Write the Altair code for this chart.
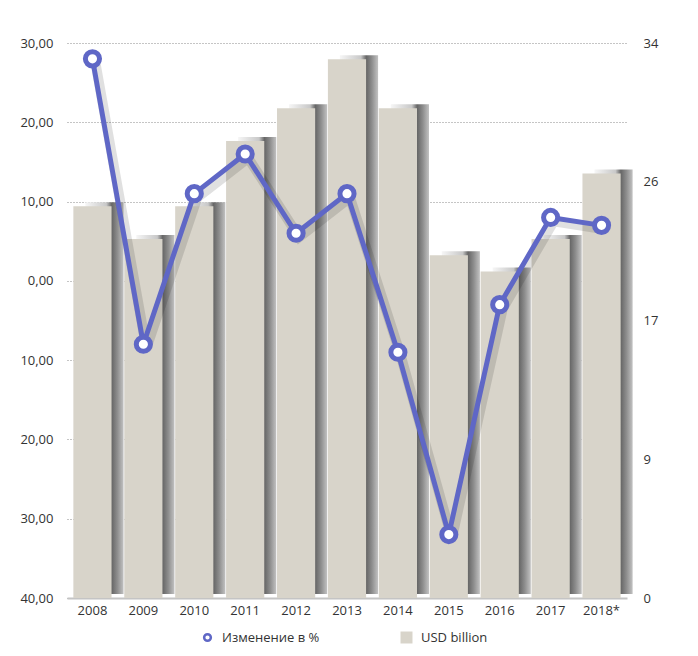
import altair as alt
import pandas as pd

years = ["2008", "2009", "2010", "2011", "2012", "2013", "2014", "2015", "2016", "2017", "2018*"]
usd_billion = [24, 22, 24, 28, 30, 33, 30, 21, 20, 22, 26]
change_pct = [28, -8, 11, 16, 6, 11, -9, -32, -3, 8, 7]
left_ticks = [-40, -30, -20, -10, 0, 10, 20, 30]
right_ticks = [0, 8.5, 17, 25.5, 34]
line_name = "Изменение в %"
bar_name = "USD billion"

df = pd.DataFrame({
    "year": years,
    "usd": usd_billion,
    "pct": change_pct,
    "s1": [line_name] * len(years),
    "s2": [bar_name] * len(years),
})

FONT = "Open Sans"
BLUE = "#5f67c6"
TXT = "#333333"

x_enc = alt.X("year:N", sort=years,
              scale=alt.Scale(paddingInner=0.25, paddingOuter=0.125),
              axis=alt.Axis(title=None, labelAngle=0, ticks=False, domain=True,
                            domainColor="#c4c4c4", domainWidth=2, labelPadding=6,
                            labelFont=FONT, labelFontSize=13, labelColor=TXT, grid=False))

y_right_scale = alt.Scale(domain=[0, 34], nice=False, zero=True)
right_axis = alt.Axis(orient="right", title=None, values=right_ticks,
                      labelExpr="format(round(datum.value), 'd')",
                      grid=False, ticks=False, domain=False,
                      labelPadding=16,
                      labelFont=FONT, labelFontSize=13, labelColor=TXT)

shadow = alt.Chart(df).mark_bar(
    xOffset=12, yOffset=-4,
    color=alt.Gradient(gradient="linear", x1=0, x2=1, y1=0, y2=0,
                       stops=[alt.GradientStop(color="#f6f6f6", offset=0),
                              alt.GradientStop(color="#c8c8c8", offset=0.55),
                              alt.GradientStop(color="#666666", offset=0.69),
                              alt.GradientStop(color="#8e8e8e", offset=0.84),
                              alt.GradientStop(color="#c2c2c2", offset=1)])
).encode(
    x=x_enc,
    y=alt.Y("usd:Q", scale=y_right_scale, axis=right_axis),
)

bars = alt.Chart(df).mark_bar(
    color=alt.Gradient(gradient="linear", x1=0, x2=1, y1=0, y2=0,
                       stops=[alt.GradientStop(color="#e3dfd6", offset=0),
                              alt.GradientStop(color="#dcd8ce", offset=1)])
).encode(
    x=x_enc,
    y=alt.Y("usd:Q", scale=y_right_scale, axis=right_axis),
    fill=alt.Fill("s2:N", scale=alt.Scale(domain=[bar_name], range=["#d8d4ca"]),
                  legend=alt.Legend(title=None, orient="none", legendX=333, legendY=588,
                                    symbolType="square", symbolSize=144, symbolStrokeWidth=0,
                                    labelFont=FONT, labelFontSize=13, labelColor=TXT,
                                    labelOffset=8, padding=0)),
)

bar_group = alt.layer(shadow, bars)

y_left_scale = alt.Scale(domain=[-40, 30], nice=False, zero=False)
left_axis = alt.Axis(orient="left", title=None, values=left_ticks,
                     labelExpr="replace(format(abs(datum.value), '.2f'), '.', ',')",
                     grid=True, gridDash=[1, 2], gridColor="#8a8a8a", gridWidth=1,
                     ticks=False, domain=False, labelPadding=14,
                     labelFont=FONT, labelFontSize=13, labelColor=TXT)

line_shadow = alt.Chart(df).mark_line(
    strokeWidth=10, opacity=0.12, color="#000000", xOffset=3, yOffset=4
).encode(
    x=x_enc,
    y=alt.Y("pct:Q", scale=y_left_scale, axis=left_axis),
)

line = alt.Chart(df).mark_line(strokeWidth=5).encode(
    x=x_enc,
    y=alt.Y("pct:Q", scale=y_left_scale, axis=left_axis),
    stroke=alt.Stroke("s1:N", scale=alt.Scale(domain=[line_name], range=[BLUE]),
                      legend=alt.Legend(title=None, orient="none", legendX=134, legendY=588,
                                        symbolType="circle", symbolSize=45, symbolStrokeWidth=2.5,
                                        symbolFillColor="white",
                                        labelFont=FONT, labelFontSize=13, labelColor=TXT,
                                        labelOffset=8, padding=0)),
)

points = alt.Chart(df).mark_point(
    shape="circle", filled=True, fill="white", strokeWidth=5, size=200, opacity=1
).encode(
    x=x_enc,
    y=alt.Y("pct:Q", scale=y_left_scale, axis=left_axis),
    stroke=alt.Stroke("s1:N", scale=alt.Scale(domain=[line_name], range=[BLUE])),
)

line_group = alt.layer(line_shadow, line, points)

chart = alt.layer(bar_group, line_group).resolve_scale(
    y="independent"
).properties(
    width=560, height=555,
    background="white",
    autosize=alt.AutoSizeParams(type="none"),
    padding={"left": 67, "top": 43, "right": 71, "bottom": 58},
).configure_view(stroke="transparent", strokeWidth=0).configure_axisY(
    domain=False, ticks=False, grid=False
)

chart.save("out.html", embed_options={"renderer": "svg", "actions": False})
